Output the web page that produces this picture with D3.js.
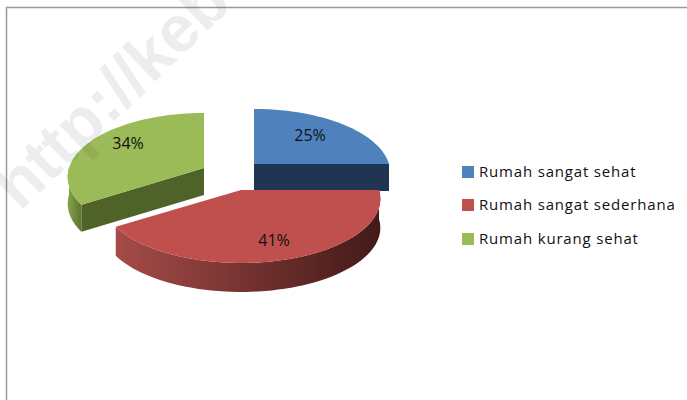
<!DOCTYPE html>
<html>
<head>
    <meta charset="utf-8">
    <title>Pie Chart with D3.js</title>
    <script src="https://d3js.org/d3.v7.min.js"></script>
    <style>
        html, body { margin: 0; padding: 0; background: #fff; }
        svg { display: block; }
        text { font-family: "Open Sans", sans-serif; fill: #111; }
    </style>
</head>
<body>
    <div id="chart"></div>

    <script>
        // Data for visualization
        var categories = ["Rumah sangat sehat", "Rumah sangat sederhana", "Rumah kurang sehat"];
        var values = [25, 41, 34];
        var watermark = "http://keb";

        // Slice colours
        var topColors = ["#4f81bd", "#c0504d", "#9bbb59"];
        var cutColors = ["#1f3552", "#4a1a18", "#4f6228"];
        var wallFrom = ["#2a4a70", "#a64b48", "#87a34c"];
        var wallTo = ["#1f3552", "#421a18", "#5c7330"];

        // Exploded slice centres and labels
        var centers = [[254, 164], [241, 190], [204, 168]];
        var radii = [135, 138, 135];
        var depths = [27, 29, 27];
        var labelPos = [[310, 135], [274, 240], [128, 143]];
        var legendY = [172, 205, 239];

        var width = 687, height = 400;
        var ry0 = 64, persp = 0.14;

        var svg = d3.select("#chart")
            .append("svg")
            .attr("width", width)
            .attr("height", height);
        var defs = svg.append("defs");

        // Frame, top and left only
        svg.append("path")
            .attr("d", "M6.5,400V7.5H687")
            .attr("fill", "none")
            .attr("stroke", "#9a9a9a")
            .attr("stroke-width", 1.5);

        var slices = d3.pie().sort(null)(values);

        // Tilted disc with a little perspective, v grows toward the viewer
        function project(i, a, r, dy) {
            var u = Math.sin(a) * r, v = -Math.cos(a) * r;
            var s = 1 + persp * v;
            return [centers[i][0] + u * radii[i] * s, centers[i][1] + v * ry0 * s + (dy || 0)];
        }
        function arcPoints(i, a0, a1, dy) {
            return d3.range(0, 61).map(function (k) {
                return project(i, a0 + (a1 - a0) * k / 60, 1, dy);
            });
        }
        var line = d3.line();

        function drawSlice(i) {
            var d = slices[i], g = svg.append("g");
            var center = project(i, 0, 0);
            var depth = depths[i];
            var shift = function (p) { return [p[0], p[1] + depth]; };

            // Cut face that looks to the front
            var cutAngle = i === 0 ? d.endAngle : d.startAngle;
            if (i !== 1) {
                var rim = project(i, cutAngle, 1);
                g.append("path")
                    .attr("d", line([center, rim, shift(rim), shift(center)]) + "Z")
                    .attr("fill", cutColors[i]);
            }

            // Outer wall, only where the rim faces the viewer
            var a0 = Math.max(d.startAngle, Math.PI / 2);
            var a1 = Math.min(d.endAngle, Math.PI * 1.5);
            if (a1 > a0) {
                var rimPts = arcPoints(i, a0, a1);
                var gradId = "wall" + i;
                var xs = d3.extent(rimPts, function (p) { return p[0]; });
                var grad = defs.append("linearGradient")
                    .attr("id", gradId)
                    .attr("gradientUnits", "userSpaceOnUse")
                    .attr("x1", xs[0]).attr("x2", xs[1])
                    .attr("y1", 0).attr("y2", 0);
                grad.append("stop").attr("offset", 0).attr("stop-color", wallFrom[i]);
                grad.append("stop").attr("offset", 1).attr("stop-color", wallTo[i]);
                g.append("path")
                    .attr("d", line(rimPts.concat(rimPts.map(shift).reverse())) + "Z")
                    .attr("fill", "url(#" + gradId + ")");
            }

            // Top surface
            g.append("path")
                .attr("d", line([center].concat(arcPoints(i, d.startAngle, d.endAngle))) + "Z")
                .attr("fill", topColors[i]);
        }
        [2, 0, 1].forEach(drawSlice);

        // Percent labels
        svg.selectAll(".pct")
            .data(values)
            .enter().append("text")
            .attr("class", "pct")
            .attr("x", function (d, i) { return labelPos[i][0]; })
            .attr("y", function (d, i) { return labelPos[i][1]; })
            .attr("dy", "0.35em")
            .attr("text-anchor", "middle")
            .attr("font-size", 16)
            .text(function (d) { return d + "%"; });

        // Legend
        var legend = svg.selectAll(".legend")
            .data(categories)
            .enter().append("g")
            .attr("class", "legend")
            .attr("transform", function (d, i) { return "translate(462," + legendY[i] + ")"; });
        legend.append("rect")
            .attr("y", -6).attr("width", 12).attr("height", 12)
            .attr("fill", function (d, i) { return topColors[i]; });
        legend.append("text")
            .attr("x", 17)
            .attr("dy", "0.35em")
            .attr("font-size", 15)
            .attr("letter-spacing", 0.82)
            .text(function (d) { return d; });

        // Watermark laid over the chart
        svg.append("text")
            .attr("transform", "translate(20,212) rotate(-44)")
            .attr("font-size", 66)
            .attr("font-weight", "bold")
            .style("font-family", '"Liberation Sans", sans-serif')
            .style("fill", "#000")
            .attr("fill-opacity", 0.07)
            .text(watermark);
    </script>
</body>
</html>
